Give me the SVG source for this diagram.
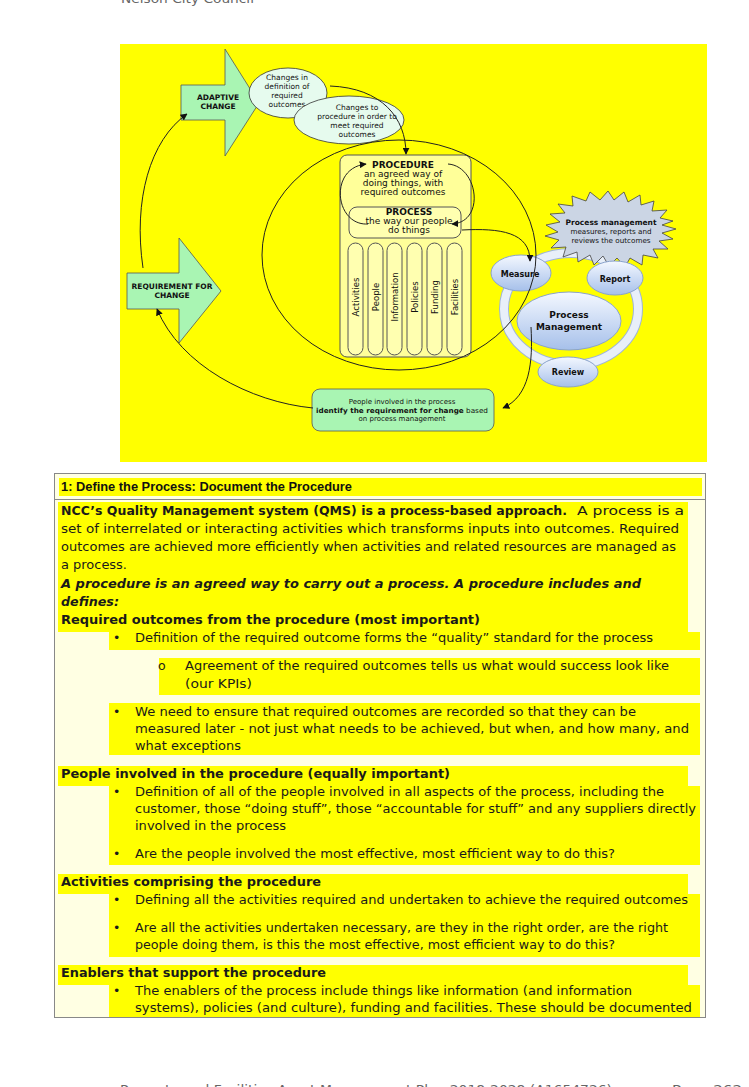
<svg xmlns="http://www.w3.org/2000/svg" width="749" height="1087" viewBox="0 0 749 1087">
<defs>
<style>
.d{font-family:"DejaVu Sans",Verdana,sans-serif;fill:#111}
.b{font-weight:bold}
.i{font-style:italic}
.t{font-family:"DejaVu Sans",Verdana,sans-serif;font-size:12.5px;fill:#1a1a1a}
.hl{fill:#ffff00}
.ln{fill:none;stroke:#222;stroke-width:1}
.grn{fill:#a9f5b3;stroke:#555;stroke-width:0.8}
.blu{fill:url(#bg);stroke:#8aa3cc;stroke-width:1}
.ctr{text-anchor:middle}
.pil{fill:#ffffb0;stroke:#555;stroke-width:1}
</style>
<linearGradient id="bg" x1="0" y1="0" x2="0" y2="1">
<stop offset="0" stop-color="#f4f8ff"/>
<stop offset="1" stop-color="#a6c0ea"/>
</linearGradient>
<marker id="ah" viewBox="0 0 10 10" refX="9" refY="5" markerWidth="7" markerHeight="7" orient="auto" markerUnits="userSpaceOnUse">
<path d="M0,0 L10,5 L0,10 z" fill="#111"/>
</marker>
</defs>
<rect width="749" height="1087" fill="#ffffff"/>
<text x="121" y="3" font-family="DejaVu Sans, sans-serif" font-size="12" fill="#666" textLength="133" lengthAdjust="spacingAndGlyphs">Nelson City Council</text>

<g id="diagram-bg"><rect x="120" y="44" width="587" height="418" fill="#ffff00"/></g>

<g id="adaptive-change">
<polygon class="grn" points="181,85 225,85 225,49 259,103 225,156 225,120 181,120"/>
<text class="d b ctr" x="218" y="100" font-size="7.5">ADAPTIVE</text>
<text class="d b ctr" x="218" y="109" font-size="7.5">CHANGE</text>
</g>

<g id="requirement-for-change">
<polygon class="grn" points="127,273 179,273 179,238 221,291 179,343 179,309 127,309"/>
<text class="d b ctr" x="172" y="289" font-size="7.5">REQUIREMENT FOR</text>
<text class="d b ctr" x="172" y="298" font-size="7.5">CHANGE</text>
</g>

<g id="changes-definition">
<ellipse cx="288" cy="93" rx="39" ry="25" fill="#e6fbee" stroke="#333" stroke-width="0.8"/>
<text class="d ctr" x="287" y="80" font-size="7.5">Changes in</text>
<text class="d ctr" x="287" y="89" font-size="7.5">definition of</text>
<text class="d ctr" x="287" y="98" font-size="7.5">required</text>
<text class="d ctr" x="287" y="107" font-size="7.5">outcomes</text>
</g>

<g id="changes-procedure">
<ellipse cx="349" cy="120" rx="55" ry="24" fill="#e6fbee" stroke="#333" stroke-width="0.8"/>
<text class="d ctr" x="357" y="110" font-size="7.5">Changes to</text>
<text class="d ctr" x="357" y="119" font-size="7.5">procedure in order to</text>
<text class="d ctr" x="357" y="128" font-size="7.5">meet required</text>
<text class="d ctr" x="357" y="137" font-size="7.5">outcomes</text>
</g>

<g id="procedure">
<rect x="340" y="155" width="131" height="202" rx="7" fill="#ffff99" stroke="#555" stroke-width="1"/>
<text class="d b ctr" x="403" y="168" font-size="9">PROCEDURE</text>
<text class="d ctr" x="403" y="177" font-size="9">an agreed way of</text>
<text class="d ctr" x="403" y="186" font-size="9">doing things, with</text>
<text class="d ctr" x="403" y="195" font-size="9">required outcomes</text>
</g>

<g id="process">
<rect x="349" y="207" width="112" height="31" rx="8" fill="#ffffb0" stroke="#555" stroke-width="1"/>
<text class="d b ctr" x="409" y="215" font-size="9">PROCESS</text>
<text class="d ctr" x="409" y="224" font-size="9">the way our people</text>
<text class="d ctr" x="409" y="233" font-size="9">do things</text>
</g>

<g id="pillars">
<rect class="pil" x="348" y="243" width="15" height="112" rx="7.5"/>
<rect class="pil" x="368" y="243" width="15" height="112" rx="7.5"/>
<rect class="pil" x="387" y="243" width="15" height="112" rx="7.5"/>
<rect class="pil" x="407" y="243" width="15" height="112" rx="7.5"/>
<rect class="pil" x="427" y="243" width="15" height="112" rx="7.5"/>
<rect class="pil" x="447" y="243" width="15" height="112" rx="7.5"/>
<text class="d ctr" font-size="8.5" transform="translate(358.5,297) rotate(-90)">Activities</text>
<text class="d ctr" font-size="8.5" transform="translate(378.5,297) rotate(-90)">People</text>
<text class="d ctr" font-size="8.5" transform="translate(397.5,297) rotate(-90)">Information</text>
<text class="d ctr" font-size="8.5" transform="translate(417.5,297) rotate(-90)">Policies</text>
<text class="d ctr" font-size="8.5" transform="translate(437.5,297) rotate(-90)">Funding</text>
<text class="d ctr" font-size="8.5" transform="translate(457.5,297) rotate(-90)">Facilities</text>
</g>

<g id="ring">
<ellipse cx="571" cy="309" rx="67" ry="56" fill="none" stroke="#9fb5d6" stroke-width="10"/>
<ellipse cx="571" cy="309" rx="67" ry="56" fill="none" stroke="#e8eff9" stroke-width="8"/>
</g>

<g id="process-management-note">
<polygon points="676,229 662,233 673,239 659,241 668,249 653,249 658,258 643,255 642,265 630,258 625,267 617,258 609,266 603,256 594,265 590,255 578,262 577,252 563,257 566,247 551,248 559,240 545,236 558,232 546,225 560,222 550,214 565,213 558,204 573,206 572,196 586,201 590,192 600,200 608,191 614,200 624,192 628,202 640,195 641,205 654,201 652,211 667,210 660,218 673,221 662,225" fill="#cbd5e4" stroke="#444" stroke-width="0.8"/>
<text class="d b ctr" x="611" y="225" font-size="7.5">Process management</text>
<text class="d ctr" x="611" y="234" font-size="7.2">measures, reports and</text>
<text class="d ctr" x="611" y="243" font-size="7.2">reviews the outcomes</text>
</g>

<g id="measure">
<ellipse class="blu" cx="521" cy="273" rx="30" ry="18"/>
<text class="d b ctr" x="520" y="277" font-size="8">Measure</text>
</g>
<g id="report">
<ellipse class="blu" cx="615" cy="278" rx="28" ry="17"/>
<text class="d b ctr" x="615" y="282" font-size="8">Report</text>
</g>
<g id="process-management">
<ellipse class="blu" cx="569" cy="321" rx="52" ry="29"/>
<text class="d b ctr" x="569" y="318" font-size="9">Process</text>
<text class="d b ctr" x="569" y="330" font-size="9">Management</text>
</g>
<g id="review">
<ellipse class="blu" cx="568" cy="372" rx="30" ry="15"/>
<text class="d b ctr" x="568" y="375" font-size="8">Review</text>
</g>

<g id="people-identify">
<rect x="312" y="389" width="182" height="42" rx="8" class="grn"/>
<text class="d ctr" x="402" y="404" font-size="7">People involved in the process</text>
<text class="d" x="316" y="413" font-size="7" textLength="172" lengthAdjust="spacingAndGlyphs"><tspan font-weight="bold">identify the requirement for change</tspan> based</text>
<text class="d ctr" x="402" y="421" font-size="7">on process management</text>
</g>

<g id="connectors">
<ellipse class="ln" cx="399" cy="255" rx="137" ry="115"/>
<path class="ln" d="M143,268 C133,200 150,140 187,114" marker-end="url(#ah)"/>
<path class="ln" d="M313,408 C250,402 180,365 157,309" marker-end="url(#ah)"/>
<path class="ln" d="M330,86 C382,88 406,118 406,154" marker-end="url(#ah)"/>
<path class="ln" d="M368,224 C335,226 328,168 366,164" marker-end="url(#ah)"/>
<path class="ln" d="M448,164 C478,166 486,222 452,224" marker-end="url(#ah)"/>
<path class="ln" d="M462,230 C500,228 530,232 530,261" marker-end="url(#ah)"/>
<path class="ln" d="M531,327 C533,362 530,396 503,408" marker-end="url(#ah)"/>
</g>

<g id="table">
<rect x="54.5" y="473.5" width="651" height="26" fill="#ffffe3" stroke="#888"/>
<rect x="54.5" y="499.5" width="651" height="518" fill="#ffffe3" stroke="#888"/>
<rect class="hl" x="59" y="478" width="643" height="18"/>
<text x="61" y="491" font-family="Liberation Sans, Arial, sans-serif" font-weight="bold" font-size="12.5" fill="#111" textLength="291" lengthAdjust="spacingAndGlyphs">1: Define the Process: Document the Procedure</text>

<rect class="hl" x="58" y="502" width="630" height="130"/>
<rect class="hl" x="109" y="632" width="591" height="18"/>
<rect class="hl" x="159" y="658" width="541" height="37"/>
<rect class="hl" x="109" y="703" width="591" height="52"/>
<rect class="hl" x="58" y="766" width="630" height="20"/>
<rect class="hl" x="109" y="786" width="591" height="79"/>
<rect class="hl" x="58" y="874" width="630" height="20"/>
<rect class="hl" x="109" y="894" width="591" height="63"/>
<rect class="hl" x="58" y="965" width="630" height="20"/>
<rect class="hl" x="109" y="985" width="591" height="32"/>

<text class="t b" x="61" y="515" textLength="506" lengthAdjust="spacingAndGlyphs">NCC’s Quality Management system (QMS) is a process-based approach.</text>
<text class="t" x="577" y="515" textLength="107" lengthAdjust="spacingAndGlyphs">A process is a</text>
<text class="t" x="61" y="533" textLength="618" lengthAdjust="spacingAndGlyphs">set of interrelated or interacting activities which transforms inputs into outcomes.  Required</text>
<text class="t" x="61" y="551" textLength="615" lengthAdjust="spacingAndGlyphs">outcomes are achieved more efficiently when activities and related resources are managed as</text>
<text class="t" x="61" y="569" textLength="66" lengthAdjust="spacingAndGlyphs">a process.</text>
<text class="t b i" x="61" y="588" textLength="580" lengthAdjust="spacingAndGlyphs">A procedure is an agreed way to carry out a process.  A procedure includes and</text>
<text class="t b i" x="61" y="606" textLength="58" lengthAdjust="spacingAndGlyphs">defines:</text>
<text class="t b" x="61" y="624" textLength="419" lengthAdjust="spacingAndGlyphs">Required outcomes from the procedure (most important)</text>
<text class="t" x="113" y="642">•</text>
<text class="t" x="135" y="642" textLength="518" lengthAdjust="spacingAndGlyphs">Definition of the required outcome forms the “quality” standard for the process</text>
<text class="t" x="158" y="670" font-size="9">o</text>
<text class="t" x="185" y="670" textLength="484" lengthAdjust="spacingAndGlyphs">Agreement of the required outcomes tells us what would success look like</text>
<text class="t" x="185" y="688" textLength="67" lengthAdjust="spacingAndGlyphs">(our KPIs)</text>
<text class="t" x="113" y="716">•</text>
<text class="t" x="135" y="716" textLength="501" lengthAdjust="spacingAndGlyphs">We need to ensure that required outcomes are recorded so that they can be</text>
<text class="t" x="135" y="733" textLength="554" lengthAdjust="spacingAndGlyphs">measured later - not just what needs to be achieved, but when, and how many, and</text>
<text class="t" x="135" y="750" textLength="106" lengthAdjust="spacingAndGlyphs">what exceptions</text>
<text class="t b" x="61" y="778" textLength="389" lengthAdjust="spacingAndGlyphs">People involved in the procedure (equally important)</text>
<text class="t" x="113" y="796">•</text>
<text class="t" x="135" y="796" textLength="529" lengthAdjust="spacingAndGlyphs">Definition of all of the people involved in all aspects of the process, including the</text>
<text class="t" x="135" y="813" textLength="561" lengthAdjust="spacingAndGlyphs">customer, those “doing stuff”, those “accountable for stuff” and any suppliers directly</text>
<text class="t" x="135" y="830" textLength="151" lengthAdjust="spacingAndGlyphs">involved in the process</text>
<text class="t" x="113" y="858">•</text>
<text class="t" x="135" y="858" textLength="480" lengthAdjust="spacingAndGlyphs">Are the people involved the most effective, most efficient way to do this?</text>
<text class="t b" x="61" y="886" textLength="260" lengthAdjust="spacingAndGlyphs">Activities comprising the procedure</text>
<text class="t" x="113" y="904">•</text>
<text class="t" x="135" y="904" textLength="553" lengthAdjust="spacingAndGlyphs">Defining all the activities required and undertaken to achieve the required outcomes</text>
<text class="t" x="113" y="932">•</text>
<text class="t" x="135" y="932" textLength="533" lengthAdjust="spacingAndGlyphs">Are all the activities undertaken necessary, are they in the right order, are the right</text>
<text class="t" x="135" y="949" textLength="480" lengthAdjust="spacingAndGlyphs">people doing them, is this the most effective, most efficient way to do this?</text>
<text class="t b" x="61" y="977" textLength="265" lengthAdjust="spacingAndGlyphs">Enablers that support the procedure</text>
<text class="t" x="113" y="995">•</text>
<text class="t" x="135" y="995" textLength="497" lengthAdjust="spacingAndGlyphs">The enablers of the process include things like information (and information</text>
<text class="t" x="135" y="1012" textLength="557" lengthAdjust="spacingAndGlyphs">systems), policies (and culture), funding and facilities.  These should be documented</text>
</g>

<text x="120" y="1094" font-family="DejaVu Sans, sans-serif" font-size="12" fill="#666" textLength="492" lengthAdjust="spacingAndGlyphs">Property and Facilities Asset Management Plan 2018-2028 (A1654726)</text>
<text x="672" y="1094" font-family="DejaVu Sans, sans-serif" font-size="12" fill="#666" textLength="70" lengthAdjust="spacingAndGlyphs">Page 262</text>
</svg>
